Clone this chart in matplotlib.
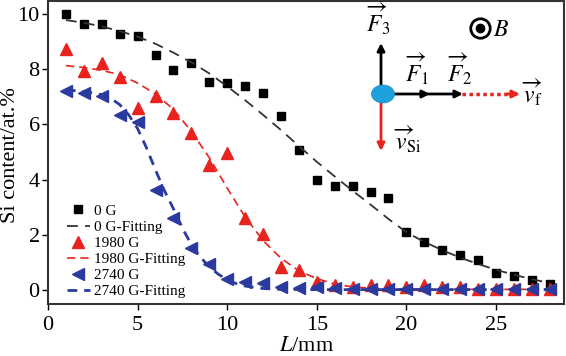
import numpy as np
import matplotlib
matplotlib.use("Agg")
import matplotlib.pyplot as plt
from matplotlib.patches import Ellipse
from matplotlib.lines import Line2D

plt.rcParams.update({
    "font.family": ["Liberation Serif", "DejaVu Serif"],
    "mathtext.fontset": "stix",
})

# measured data (L in mm, Si content in at.%)
L_pts = np.arange(1, 29)
si_0G = [10.0, 9.64, 9.62, 9.26, 9.21, 8.51, 7.97, 8.24, 7.55, 7.49, 7.40, 7.14, 6.29, 5.07,
         3.99, 3.78, 3.76, 3.55, 3.32, 2.11, 1.73, 1.44, 1.28, 1.09, 0.64, 0.50, 0.37, 0.23]
si_1980G = [8.74, 7.93, 8.21, 7.72, 6.58, 7.04, 6.40, 5.68, 4.53, 4.95, 2.62, 2.02, 0.83, 0.72,
            0.30, 0.18, 0.12, 0.18, 0.20, 0.12, 0.17, 0.12, 0.10, 0.06, 0.05, 0.05, 0.05, 0.05]
si_2740G = [7.21, 7.13, 7.03, 6.34, 6.09, 3.62, 2.62, 1.53, 0.94, 0.42, 0.30, 0.26, 0.12, 0.08,
            0.12, 0.08, 0.04, 0.03, 0.03, 0.03, 0.03, 0.03, 0.03, 0.03, 0.03, 0.03, 0.03, 0.03]

# fitted curves
L_fit0 = np.arange(1, 29)
fit_0G = [9.78, 9.68, 9.55, 9.38, 9.18, 8.92, 8.60, 8.25, 7.85, 7.38, 6.88, 6.35, 5.80, 5.22,
          4.65, 4.12, 3.60, 3.10, 2.58, 2.10, 1.75, 1.45, 1.18, 0.95, 0.74, 0.56, 0.40, 0.26]
L_fit1 = np.arange(1, 29)
fit_1980G = [8.13, 8.06, 7.96, 7.80, 7.50, 7.10, 6.55, 5.75, 4.80, 3.70, 2.65, 1.80, 1.16, 0.70,
             0.42, 0.22, 0.12, 0.07, 0.05, 0.04, 0.04, 0.03, 0.03, 0.03, 0.03, 0.03, 0.03, 0.03]
L_fit2 = [1, 2, 3, 3.5, 4, 4.5, 5, 5.5, 6, 6.5, 7, 7.5, 8, 8.5, 9, 9.5, 10, 10.5, 11, 12, 13,
          15, 20, 25, 28]
fit_2740G = [7.25, 7.20, 7.08, 6.95, 6.72, 6.35, 5.85, 5.15, 4.35, 3.60, 2.95, 2.25, 1.65, 1.20,
             0.85, 0.58, 0.38, 0.24, 0.15, 0.06, 0.03, 0.02, 0.02, 0.02, 0.02]

labels = ["0 G", "0 G-Fitting", "1980 G", "1980 G-Fitting", "2740 G", "2740 G-Fitting"]

RED = "#e8231e"
BLUE = "#2b3a9e"

fig = plt.figure(figsize=(5.66, 3.56), dpi=100)
ax = fig.add_axes([48 / 566, 1 - 304 / 356, 516 / 566, 303 / 356])

h1, = ax.plot(L_pts, si_0G, "s", color="black", ms=6, ls="none")
h2, = ax.plot(L_fit0, fit_0G, color="#333333", lw=1.3, dashes=(6, 4))
h3, = ax.plot(L_pts, si_1980G, "^", color=RED, ms=8, ls="none")
h4, = ax.plot(L_fit1, fit_1980G, color=RED, lw=1.2, dashes=(5, 3))
h5, = ax.plot(L_pts, si_2740G, "<", color=BLUE, ms=8, ls="none")
h6, = ax.plot(L_fit2, fit_2740G, color=BLUE, lw=2, dashes=(3.5, 2.5))

ax.set_xlim(0, 28.8)
ax.set_ylim(-0.5, 10.47)
ax.set_xticks([0, 5, 10, 15, 20, 25])
ax.set_yticks([0, 2, 4, 6, 8, 10])
ax.tick_params(direction="out", length=4, width=1, labelsize=16)
ax.tick_params(axis="x", pad=5)
ax.tick_params(axis="y", pad=2)
for s in ax.spines.values():
    s.set_linewidth(1.5)
    s.set_color("#333333")
ax.set_xlabel(r"$\mathit{L}$/mm", fontsize=16, labelpad=1)
ax.set_ylabel("Si content/at.%", fontsize=16, va="center")
ax.yaxis.set_label_coords(-37 / 516, 0.49)

ax.legend([h1, h2, h3, h4, h5, h6], labels, loc="upper left",
          bbox_to_anchor=(0.022, 0.355), frameon=False, fontsize=11,
          labelspacing=0.16, handlelength=1.5, handletextpad=0.3, borderpad=0)


# diagram in the upper right, positions in image pixels
def fp(x, y):
    return (x / 566, 1 - y / 356)


def arrow(x0, y0, x1, y1, color):
    ax.annotate("", xy=fp(x1, y1), xytext=fp(x0, y0), xycoords="figure fraction",
                textcoords="figure fraction",
                arrowprops=dict(arrowstyle="-|>", color=color, lw=2, mutation_scale=11,
                                shrinkA=0, shrinkB=0))


arrow(381, 92, 381, 43, "black")
arrow(381, 100, 381, 151, RED)
arrow(392, 94, 430, 94, "black")
arrow(428, 94, 463, 94, "black")
fig.add_artist(Line2D([fp(462, 94)[0], fp(508, 94)[0]], [fp(462, 94)[1]] * 2,
                      transform=fig.transFigure, color=RED, lw=2.5, ls=(0, (1, 1))))
arrow(506, 94, 520, 94, RED)
fig.add_artist(Ellipse(fp(383, 94), 23 / 566, 18 / 356, transform=fig.transFigure,
                       facecolor="#1ea0dc", edgecolor="#1a8cc8", lw=0.5, zorder=5))

lab = dict(fontsize=17, ha="left", va="baseline", transform=fig.transFigure)
fig.text(*fp(366, 32), r"$\overrightarrow{F}_{3}$", **lab)
fig.text(*fp(405, 82), r"$\overrightarrow{F}_{1}$", **lab)
fig.text(*fp(447, 82), r"$\overrightarrow{F}_{2}$", **lab)
fig.text(*fp(521, 103), r"$\overrightarrow{v}_{\mathrm{f}}$", **lab)
fig.text(*fp(393, 150), r"$\overrightarrow{v}_{\mathrm{Si}}$", **lab)
fig.text(*fp(493, 36), r"$B$", **lab)
fig.add_artist(Line2D([fp(480, 28)[0]], [fp(480, 28)[1]], transform=fig.transFigure,
                      marker="o", ms=14, mfc="none", mec="black", mew=2))
fig.add_artist(Line2D([fp(480, 28)[0]], [fp(480, 28)[1]], transform=fig.transFigure,
                      marker="o", ms=6, mfc="black", mec="black"))

fig.savefig("out.png", dpi=100)
